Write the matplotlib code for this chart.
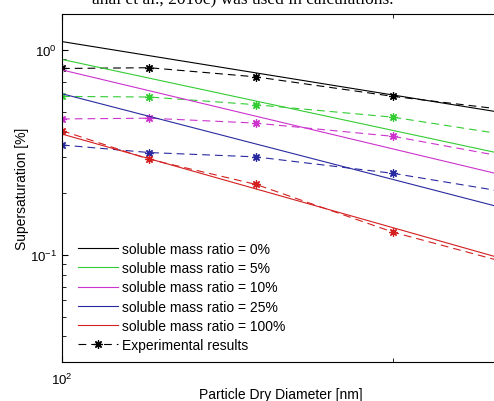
import numpy as np
import matplotlib
matplotlib.use('Agg')
import matplotlib.pyplot as plt
from matplotlib.lines import Line2D
from matplotlib.ticker import NullFormatter, LogLocator, FixedLocator

plt.rcParams['font.family'] = ['Liberation Sans', 'DejaVu Sans']
plt.rcParams['mathtext.default'] = 'regular'
plt.rcParams['xtick.direction'] = 'in'
plt.rcParams['ytick.direction'] = 'in'

# --- data ---
# model curves (straight on log-log axes): value at 100 nm and 250 nm
model_d = [100, 250]
model_labels = ['soluble mass ratio = 0%', 'soluble mass ratio = 5%',
                'soluble mass ratio = 10%', 'soluble mass ratio = 25%',
                'soluble mass ratio = 100%']
model_0 = [1.10, 0.497]
model_5 = [0.90, 0.313]
model_10 = [0.80, 0.247]
model_25 = [0.612, 0.171]
model_100 = [0.389, 0.0966]

# experimental points
exp_d = [100, 120, 150, 200, 250]
exp_0 = [0.813, 0.82, 0.74, 0.594, 0.515]
exp_5 = [0.594, 0.59, 0.541, 0.47, 0.39]
exp_10 = [0.461, 0.465, 0.44, 0.379, 0.304]
exp_25 = [0.344, 0.316, 0.301, 0.25, 0.205]
exp_100 = [0.404, 0.293, 0.221, 0.129, 0.0935]

colors = ['black', '#33cc33', '#cc33cc', '#2a2aa0', '#d42020']
models = [model_0, model_5, model_10, model_25, model_100]
exps = [exp_0, exp_5, exp_10, exp_25, exp_100]

fig = plt.figure(figsize=(4.94, 4.02), dpi=100)
ax = fig.add_axes([62 / 494, 39 / 402, 438 / 494, 348 / 402])

star = (8, 2, 0)
handles = []
for m, e, c, lab in zip(models, exps, colors, model_labels):
    h, = ax.plot(model_d, m, color=c, lw=0.8, label=lab)
    handles.append(h)
    ax.plot(exp_d, e, color=c, lw=0.8, dashes=(7, 4.5),
            marker=star, ms=6, mew=0.9)

handles.append(Line2D([], [], color='black', lw=0.8, dashes=(7, 4.5),
                      marker=star, ms=6, mew=0.9, label='Experimental results'))

ax.set_xscale('log')
ax.set_yscale('log')
ax.set_xlim(100, 250)
ax.set_ylim(0.03, 1.5)
ax.xaxis.set_minor_locator(FixedLocator([200]))
ax.xaxis.set_minor_formatter(NullFormatter())
ax.yaxis.set_minor_locator(LogLocator(base=10, subs=np.arange(2, 10)))
ax.yaxis.set_minor_formatter(NullFormatter())
ax.tick_params(which='both', top=True, right=False, labelsize=9.5)
ax.tick_params(which='major', length=4)
ax.tick_params(which='minor', length=3)
ax.tick_params(axis='x', pad=7)
ax.spines['right'].set_visible(False)
for s in ax.spines.values():
    s.set_linewidth(0.8)

ax.set_xlabel('Particle Dry Diameter [nm]', fontsize=10, labelpad=0)
ax.set_ylabel('Supersaturation [%]', fontsize=10, labelpad=1)

ax.legend(handles=handles, loc='lower left', bbox_to_anchor=(6 / 438, 0),
          frameon=False, fontsize=10, handlelength=2.9, handletextpad=0.3,
          labelspacing=0.38, borderaxespad=0.3, numpoints=1)

fig.text(393 / 494, 1.002, 'anal et al., 2010c) was used in calculations.',
         fontsize=12.5, family=['Liberation Serif', 'DejaVu Serif'],
         ha='right', va='center')

fig.savefig('out.png', dpi=100)
